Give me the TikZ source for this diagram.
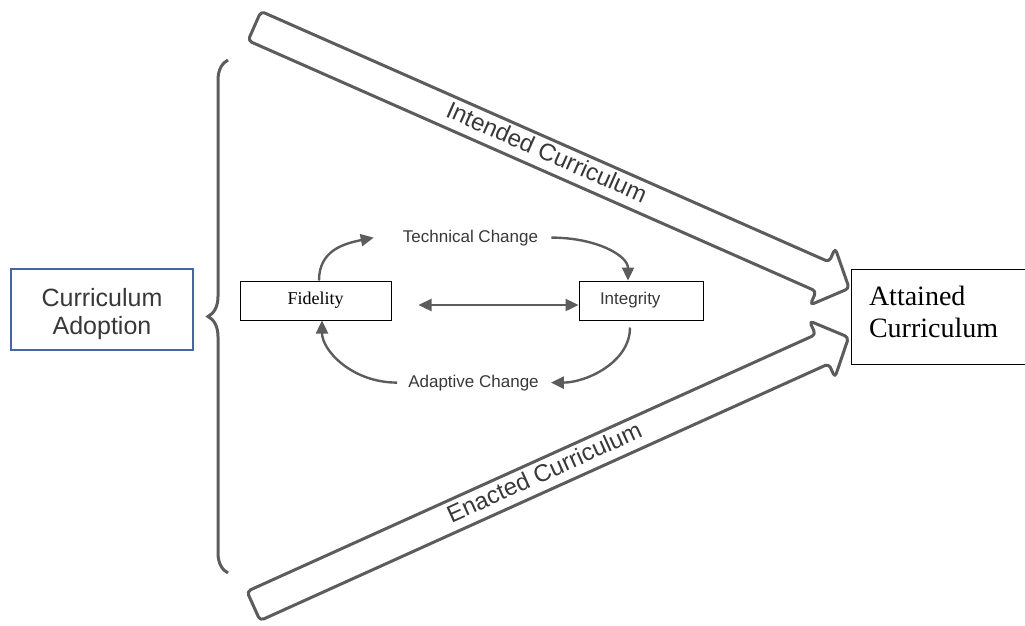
\documentclass[tikz,border=0pt]{standalone}
\usepackage{fontspec}
\setmainfont{Liberation Serif}
\setsansfont{Liberation Sans}
\usepackage{tikz}
\usetikzlibrary{arrows.meta}
\usetikzlibrary{decorations.pathreplacing}
\usetikzlibrary{positioning}

\definecolor{linegray}{HTML}{5C5C5C}
\definecolor{textgray}{HTML}{383838}
\definecolor{boxblue}{HTML}{4566A2}

\tikzset{
  flow/.style={draw=linegray, line width=2.4pt, -{Triangle[length=13pt,width=12pt]}},
  bigarrow/.style={draw=linegray, line width=3pt, rounded corners=4pt, line join=round},
  lbl/.style={font=\sffamily\fontsize{17}{20}\selectfont, text=textgray, inner sep=0pt},
  biglbl/.style={font=\sffamily\fontsize{24}{28}\selectfont, text=textgray, inner sep=0pt},
  smallbox/.style={draw, line width=1pt, minimum height=39pt, inner sep=0pt}
}

\begin{document}
\begin{tikzpicture}[x=1pt,y=-1pt]
      \useasboundingbox (0,0) rectangle (1025,626);
      \clip (0,0) rectangle (1025,626);
      % outer boxes
      \node[draw=boxblue, line width=1.5pt, minimum width=182pt, minimum height=81pt,
            align=center, text=textgray, text height=56pt, font=\sffamily\fontsize{25}{28}\selectfont]
            (adopt) at (102,309.5) {Curriculum\\Adoption};
      \node[draw, line width=1pt, minimum width=189pt, minimum height=95pt,
            inner xsep=18pt, text width=153pt, align=left, text depth=42pt,
            font=\fontsize{28}{32}\selectfont] (attain) at (945.5,316.5) {Attained\\Curriculum};
      % brace
      \coordinate (brtop) at (228,60);
      \coordinate (brbot) at (228,573);
      \draw[decorate, decoration={brace, amplitude=20pt, aspect=0.5},
            draw=linegray, line width=3pt] (brbot) -- (brtop);
      % big arrows
      \begin{scope}[shift={(254.5,26)}, rotate=-23.8]
        \draw[bigarrow] (0,-16) -- (621,-16) -- (621,-31) -- (650,0)
              -- (621,31) -- (621,16) -- (0,16) -- cycle;
      \end{scope}
      \begin{scope}[shift={(253.5,606)}, rotate=24.3]
        \draw[bigarrow] (0,-16) -- (624,-16) -- (624,-31) -- (653,0)
              -- (624,31) -- (624,16) -- (0,16) -- cycle;
      \end{scope}
      \node[biglbl, rotate=-23.8] (intended) at (547,152) {Intended Curriculum};
      \node[biglbl, rotate=24.3] (enacted) at (544,472) {Enacted Curriculum};
      % inner boxes
      \node[smallbox, minimum width=151pt, font=\fontsize{18}{20}\selectfont]
            (fid) at (315.5,300.5) {Fidelity};
      \node[smallbox, minimum width=124pt, inner xsep=21pt, text width=82pt, align=left,
            text=textgray, font=\sffamily\fontsize{17}{20}\selectfont]
            (int) at (641,300.5) {Integrity};
      % labels
      \node[lbl, anchor=base] (tech) at (470.5,242) {Technical Change};
      \node[lbl, anchor=base] (adapt) at (473.5,387) {Adaptive Change};
      % cycle
      \draw[flow] ([xshift=3.5pt]fid.north) .. controls +(0,-30) and +(-30,6) .. ([xshift=-29pt]tech.west);
      \draw[flow] ([xshift=13pt]tech.east) .. controls +(45,0) and +(0,-25) .. ([xshift=-13pt]int.north);
      \draw[flow] ([xshift=-11pt,yshift=-7pt]int.south) .. controls +(0,35) and +(35,0) .. ([xshift=12pt]adapt.east);
      \draw[flow] ([xshift=-11pt]adapt.west) .. controls +(-45,0) and +(0,30) .. ([xshift=6.5pt]fid.south);
      \draw[flow, {Triangle[length=13pt,width=12pt]}-{Triangle[length=13pt,width=12pt]}]
            ([xshift=27pt,yshift=-4.5pt]fid.east) -- ([yshift=-4.5pt]int.west);
\end{tikzpicture}
\end{document}
